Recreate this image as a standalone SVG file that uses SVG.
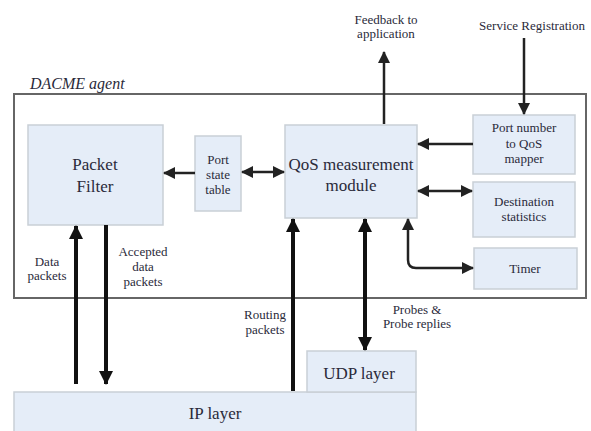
<svg xmlns="http://www.w3.org/2000/svg" width="591" height="431" viewBox="0 0 591 431" font-family="Liberation Serif, Times New Roman, Times, Noto Serif, DejaVu Serif, serif">
<defs>
<style>
.box{fill:#e5edf8;stroke:#c9cfd6;stroke-width:1.5}
.t{fill:#2a2a3a;text-anchor:middle}
.big{font-size:17px}
.sm{font-size:13px}
.thick{stroke:#111;stroke-width:4;fill:none}
.thin{stroke:#222;stroke-width:2.5;fill:none}
</style>
<marker id="hb" markerUnits="userSpaceOnUse" viewBox="0 0 14 14" refX="13" refY="7" markerWidth="14" markerHeight="14" orient="auto-start-reverse"><path d="M0,0 L14,7 L0,14 Z" fill="#111"/></marker>
<marker id="hs" markerUnits="userSpaceOnUse" viewBox="0 0 12 12" refX="11" refY="6" markerWidth="12" markerHeight="12" orient="auto-start-reverse"><path d="M0,0 L12,6 L0,12 Z" fill="#222"/></marker>
</defs>
<rect width="591" height="431" fill="#fff"/>
<text x="30" y="89" font-style="italic" font-size="16" fill="#2a2a3a">DACME agent</text>
<rect id="agent" x="14" y="94" width="572" height="204" fill="none" stroke="#666" stroke-width="2"/>

<g id="packet-filter"><rect class="box" x="28" y="125" width="135" height="100"/><text class="t big" x="95" y="170">Packet</text><text class="t big" x="95" y="192">Filter</text></g>
<g id="port-state-table"><rect class="box" x="195" y="136" width="46" height="75"/><text class="t sm" x="218" y="164">Port</text><text class="t sm" x="218" y="179">state</text><text class="t sm" x="218" y="194">table</text></g>
<g id="qos"><rect class="box" x="285" y="125" width="132" height="93"/><text class="t big" x="351" y="170">QoS measurement</text><text class="t big" x="351" y="191">module</text></g>
<g id="mapper"><rect class="box" x="473" y="115" width="102" height="59"/><text class="t sm" x="524" y="132">Port number</text><text class="t sm" x="524" y="148">to QoS</text><text class="t sm" x="524" y="163">mapper</text></g>
<g id="dest-stats"><rect class="box" x="473" y="182" width="102" height="55"/><text class="t sm" x="524" y="206">Destination</text><text class="t sm" x="524" y="221">statistics</text></g>
<g id="timer"><rect class="box" x="474" y="248" width="103" height="41"/><text class="t sm" x="525" y="273">Timer</text></g>
<g id="ip-layer"><rect class="box" x="14" y="392" width="402" height="45"/><text class="t big" x="215" y="419">IP layer</text></g>
<g id="udp-layer"><rect class="box" x="307" y="351" width="109" height="41"/><text class="t big" x="359" y="379">UDP layer</text></g>

<g id="labels">
<text class="t sm" x="386" y="24">Feedback to</text><text class="t sm" x="386" y="38">application</text>
<text class="t sm" x="532" y="30">Service Registration</text>
<text class="t sm" x="47" y="266">Data</text><text class="t sm" x="47" y="280">packets</text>
<text class="t sm" x="143" y="256">Accepted</text><text class="t sm" x="143" y="271">data</text><text class="t sm" x="143" y="286">packets</text>
<text class="t sm" x="265" y="319">Routing</text><text class="t sm" x="265" y="334">packets</text>
<text class="t sm" x="417" y="314">Probes &amp;</text><text class="t sm" x="417" y="328">Probe replies</text>
</g>

<g id="connectors">
<line class="thin" x1="195" y1="173" x2="164" y2="173" marker-end="url(#hs)"/>
<line class="thin" x1="242" y1="172" x2="284" y2="172" marker-start="url(#hs)" marker-end="url(#hs)"/>
<line class="thin" x1="473" y1="144" x2="418" y2="144" marker-end="url(#hs)"/>
<line class="thin" x1="418" y1="191" x2="472" y2="191" marker-start="url(#hs)" marker-end="url(#hs)"/>
<path class="thin" d="M408,219 V260 Q408,268 416,268 H473" marker-start="url(#hs)" marker-end="url(#hs)"/>
<line class="thin" x1="384" y1="124" x2="384" y2="52" marker-end="url(#hs)"/>
<line class="thin" x1="524" y1="38" x2="524" y2="114" marker-end="url(#hs)"/>
<line class="thick" x1="76" y1="384" x2="76" y2="226" marker-end="url(#hb)"/>
<line class="thick" x1="106" y1="225" x2="106" y2="384" marker-end="url(#hb)"/>
<line class="thick" x1="293" y1="391" x2="293" y2="219" marker-end="url(#hb)"/>
<line class="thick" x1="365" y1="219" x2="365" y2="350" marker-start="url(#hb)" marker-end="url(#hb)"/>
</g>
</svg>
